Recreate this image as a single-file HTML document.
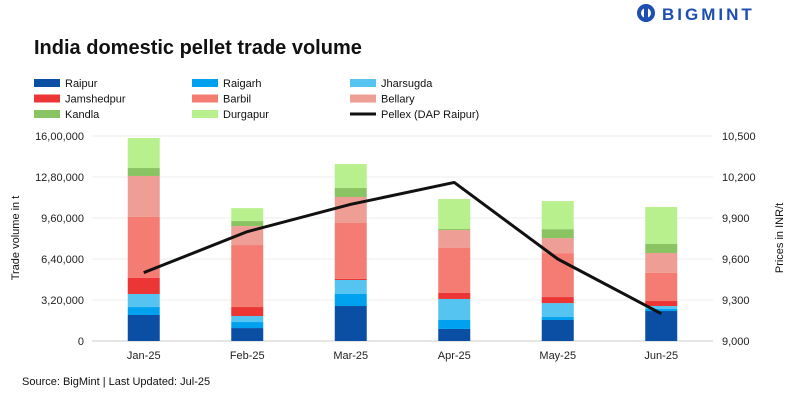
<!DOCTYPE html>
<html><head><meta charset="utf-8"><style>
body{margin:0;background:#fff;font-family:"Liberation Sans",sans-serif;}
#wrap{position:relative;width:800px;height:400px;overflow:hidden;}
</style></head><body>
<div id="wrap">
<svg id="svg" width="800" height="400" xmlns="http://www.w3.org/2000/svg">
 <g>
  <circle cx="646" cy="13" r="9" fill="#1c4fb0"/>
  <circle cx="646" cy="13" r="5" fill="#fff"/>
  <rect x="644" y="8" width="4" height="14" fill="#1c4fb0"/>
  <text x="662" y="20" font-size="17" font-weight="bold" fill="#1c4fb0" letter-spacing="3">BIGMINT</text>
 </g>
 <text x="34" y="54" font-size="20" font-weight="bold" fill="#111">India domestic pellet trade volume</text>
 <g id="legend"></g>
 <g id="grid"></g>
 <g id="bars"></g>
 <g id="line"></g>
 <g id="axes"></g>
 <text transform="translate(19,238) rotate(-90)" text-anchor="middle" font-size="11" fill="#111">Trade volume in t</text>
 <text transform="translate(783,238) rotate(-90)" text-anchor="middle" font-size="11" fill="#111">Prices in INR/t</text>
 <text x="22" y="385" font-size="11" fill="#111">Source: BigMint | Last Updated: Jul-25</text>
</svg>
</div>
<script>
const categories=["Jan-25","Feb-25","Mar-25","Apr-25","May-25","Jun-25"];
const seriesNames=["Raipur","Raigarh","Jharsugda","Jamshedpur","Barbil","Bellary","Kandla","Durgapur"];
const raipur=[203000,101000,273000,94000,164000,234000];
const raigarh=[62000,47000,94000,70000,23000,16000];
const jharsugda=[102000,47000,109000,164000,109000,23000];
const jamshedpur=[127000,70000,10000,47000,47000,39000];
const barbil=[474000,484000,435000,351000,343000,219000];
const bellary=[320000,148000,203000,140000,117000,156000];
const kandla=[62000,39000,70000,8000,70000,70000];
const durgapur=[234000,101000,187000,234000,219000,289000];
const pellex=[9500,9800,10000,10160,9600,9200];
const leftTicks=[0,320000,640000,960000,1280000,1600000];
const leftTickLabels=["0","3,20,000","6,40,000","9,60,000","12,80,000","16,00,000"];
const rightTicks=[9000,9300,9600,9900,10200,10500];
const rightTickLabels=["9,000","9,300","9,600","9,900","10,200","10,500"];
const colors=["#0a4fa3","#00a2f0","#55c4f0","#ec3535","#f47c72","#ef9e96","#8ac462","#b8f08e"];
const series=[raipur,raigarh,jharsugda,jamshedpur,barbil,bellary,kandla,durgapur];
const NS="http://www.w3.org/2000/svg";
const X0=92,X1=713,Y0=341,Y1=136;
const band=(X1-X0)/categories.length;
const xc=i=>X0+band*(i+0.5);
const yL=v=>Y0-(v/1600000)*(Y0-Y1);
const yR=v=>Y0-((v-9000)/1500)*(Y0-Y1);
function mk(tag,attrs,parent){const e=document.createElementNS(NS,tag);for(const k in attrs)e.setAttribute(k,attrs[k]);parent.appendChild(e);return e;}
const grid=document.getElementById('grid'),axes=document.getElementById('axes');
leftTicks.forEach((t,i)=>{
 const l=mk('line',{x1:X0,x2:X1,y1:yL(t),y2:yL(t),stroke:i==0?'#cccccc':'#eeeeee','stroke-width':1},grid);
 
 
 const tx=mk('text',{x:84,y:yL(t)+4,'text-anchor':'end','font-size':11,fill:'#222'},axes);
 tx.textContent=leftTickLabels[i];
 
 
});
rightTicks.forEach((t,i)=>{
 const tx=mk('text',{x:722,y:yR(t)+4,'font-size':11,fill:'#222'},axes);
 tx.textContent=rightTickLabels[i];
 
 
});
categories.forEach((c,i)=>{
 const tx=mk('text',{x:xc(i),y:359,'text-anchor':'middle','font-size':11,fill:'#222'},axes);
 tx.textContent=c;
 
 
});
const bars=document.getElementById('bars');
categories.forEach((c,i)=>{
 let cum=0;
 series.forEach((s,k)=>{
  const y0=yL(cum),y1=yL(cum+s[i]);cum+=s[i];
  const r=mk('rect',{x:xc(i)-16,y:y1,width:32,height:Math.max(0,y0-y1),fill:colors[k]},bars);
  
  
 });
});
const pts=pellex.map((v,i)=>xc(i)+','+yR(v)).join(' ');
const pl=mk('polyline',{points:pts,fill:'none',stroke:'#111','stroke-width':3,'stroke-linejoin':'round'},document.getElementById('line'));


const leg=document.getElementById('legend');
const legNames=seriesNames.concat(["Pellex (DAP Raipur)"]);
legNames.forEach((n,i)=>{
 const col=i%3,row=Math.floor(i/3);
 const x=34+col*158,y=83+row*15.5;
 const g=mk('g',{},leg);
 
 
 if(i<8) mk('rect',{x:x,y:y-4,width:26,height:8,fill:colors[i]},g);
 else mk('line',{x1:x,x2:x+26,y1:y,y2:y,stroke:'#111','stroke-width':3},g);
 const t=mk('text',{x:x+31,y:y+4,'font-size':11,fill:'#111'},g);
 t.textContent=n;
});
</script>
</body></html>
